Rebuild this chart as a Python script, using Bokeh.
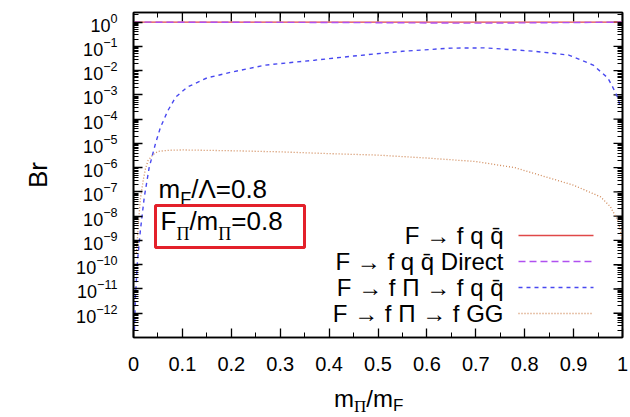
import math
from bokeh.plotting import figure
from bokeh.layouts import column
from bokeh.models import (FixedTicker, LinearAxis, LogAxis, Label, BoxAnnotation, Range1d, Div)
from bokeh.embed import file_html
from bokeh.resources import INLINE

# ---------------- data ----------------
x_total = [0.0, 0.5, 1.0]
br_total = [1.0, 1.0, 1.0]

x_direct = [0.0, 0.2, 0.4, 0.55, 0.65, 0.72, 0.82, 0.9, 0.96, 1.0]
br_direct = [1.0, 0.99, 0.97, 0.94, 0.915, 0.913, 0.94, 0.96, 0.99, 1.0]

x_pi_qq = [0.002, 0.004, 0.008, 0.014, 0.022, 0.032, 0.045, 0.055, 0.07, 0.086,
           0.11, 0.15, 0.2, 0.27, 0.37, 0.45, 0.55, 0.65, 0.72, 0.82,
           0.89, 0.94, 0.97, 0.98, 0.99, 0.996]
br_pi_qq = [2e-13, 5e-12, 1.3e-10, 2.5e-9, 6e-8, 1e-6, 1e-5, 4.5e-5, 2.2e-4, 8e-4,
            2.1e-3, 5e-3, 8.7e-3, 1.7e-2, 2.7e-2, 4e-2, 6.3e-2, 8.5e-2, 8.7e-2, 6.3e-2,
            4.4e-2, 1.7e-2, 5e-3, 2.1e-3, 8e-4, 3e-4]

x_pi_gg = [0.006, 0.01, 0.014, 0.02, 0.025, 0.03, 0.04, 0.05, 0.07, 0.1,
           0.2, 0.3, 0.4, 0.5, 0.6, 0.7, 0.78, 0.83, 0.9, 0.955,
           0.975, 0.99, 0.996, 0.999]
br_pi_gg = [3e-10, 5e-9, 5e-8, 3.2e-7, 1e-6, 2e-6, 3.5e-6, 4.7e-6, 5.2e-6, 5.4e-6,
            5e-6, 4.5e-6, 3.8e-6, 3.3e-6, 2.5e-6, 1.8e-6, 1e-6, 5e-7, 1.9e-7, 6.3e-8,
            2.5e-8, 6.9e-9, 2.5e-9, 1e-9]

legend_labels = ["F \u2192 f q q\u0304",
                 "F \u2192 f q q\u0304 Direct",
                 "F \u2192 f \u03a0 \u2192 f q q\u0304",
                 "F \u2192 f \u03a0 \u2192 f GG"]

x_ticks = [0.0, 0.1, 0.2, 0.3, 0.4, 0.5, 0.6, 0.7, 0.8, 0.9, 1.0]
x_minor = [0.05, 0.15, 0.25, 0.35, 0.45, 0.55, 0.65, 0.75, 0.85, 0.95]
y_exponents = [0, -1, -2, -3, -4, -5, -6, -7, -8, -9, -10, -11, -12]

# ---------------- layout constants (canvas pixels) ----------------
W, H = 630, 417
H_STRIP = 30                          # strip below the chart for the x-axis title
H_MAIN = H - H_STRIP
FL, FR, FT, FB = 133, 622, 12, 337   # frame edges
XMIN, XMAX = 0.0, 1.0
YMIN, YMAX = 1e-13, 2.5
SANS = "Liberation Sans"
SERIF = "Liberation Serif"
LT, LB = math.log10(YMAX), math.log10(YMIN)


def fx(px):
    return px - FL


def fy(py):
    return FB - py


def px2x(px):       # canvas pixel -> data x (for legend keys / tick marks)
    return XMIN + (px - FL) / (FR - FL) * (XMAX - XMIN)


def py2y(py):       # canvas pixel -> data y (log axis)
    return 10 ** (LT - (py - FT) / (FB - FT) * (LT - LB))


p = figure(width=W, height=H_MAIN, x_range=Range1d(XMIN, XMAX), y_range=Range1d(YMIN, YMAX),
           y_axis_type="log", output_backend="svg", toolbar_location=None,
           min_border_left=FL, min_border_right=W - FR, min_border_top=FT,
           min_border_bottom=H_MAIN - FB)
p.grid.visible = False
p.background_fill_color = "white"
p.border_fill_color = "white"
p.outline_line_color = "black"
p.outline_line_width = 1.6

y_major = [10.0 ** e for e in y_exponents]
y_minor = [m * 10.0 ** e for e in range(-13, 1) for m in range(2, 10)]


def style_axis(ax, ticker):
    ax.ticker = ticker
    ax.axis_line_color = "black"
    ax.axis_line_width = 1.6
    ax.major_tick_line_color = "black"
    ax.minor_tick_line_color = "black"
    ax.major_tick_line_width = 1.3
    ax.minor_tick_line_width = 1.0
    ax.major_tick_in = 9
    ax.major_tick_out = 0
    ax.minor_tick_in = 5
    ax.minor_tick_out = 0
    ax.major_label_text_color = "black"
    ax.major_label_text_font = SANS


style_axis(p.xaxis[0], FixedTicker(ticks=x_ticks, minor_ticks=x_minor))
p.xaxis.major_label_text_font_size = "20px"
p.xaxis.major_label_standoff = 19
p.xaxis.major_label_overrides = {0: "0", 1: "1"}

style_axis(p.yaxis[0], FixedTicker(ticks=y_major, minor_ticks=y_minor))
p.yaxis.major_label_text_font_size = "18px"
p.yaxis.major_label_standoff = 16
p.yaxis.axis_label = "Br"
p.yaxis.axis_label_text_font = SANS
p.yaxis.axis_label_text_font_size = "26px"
p.yaxis.axis_label_text_font_style = "normal"
p.yaxis.axis_label_text_color = "black"
p.yaxis.axis_label_standoff = 20

# mirrored (label-free) axes on top and right: minor-length marks from the axis,
# major-length marks added as short segments below
top_ax = LinearAxis()
style_axis(top_ax, FixedTicker(ticks=[], minor_ticks=x_ticks + x_minor))
p.add_layout(top_ax, "above")
right_ax = LogAxis()
style_axis(right_ax, FixedTicker(ticks=[], minor_ticks=y_major + y_minor))
p.add_layout(right_ax, "right")

p.segment(x0=x_ticks, x1=x_ticks, y0=[YMAX] * len(x_ticks),
          y1=[py2y(FT + 9)] * len(x_ticks), line_color="black", line_width=1.3)
p.segment(x0=[px2x(FR - 9)] * len(y_major), x1=[XMAX] * len(y_major),
          y0=y_major, y1=y_major, line_color="black", line_width=1.3)

# ---------------- curves ----------------
styles = [dict(line_color="#e04848", line_width=1.4),
          dict(line_color="#b050f0", line_width=1.4, line_dash="7 4"),
          dict(line_color="#4848f0", line_width=1.4, line_dash="4 4"),
          dict(line_color="#d08a5a", line_width=1.3, line_dash="1 2")]
p.line(x_total, br_total, **styles[0])
p.line(x_direct, br_direct, **styles[1])
p.line(x_pi_qq, br_pi_qq, **styles[2])
p.line(x_pi_gg, br_pi_gg, **styles[3])

# ---------------- legend (text right-aligned, key on the right) ----------------
for i, t in enumerate(legend_labels):
    row = 235 + 26 * i
    p.add_layout(Label(x=fx(503), y=fy(row), x_units="screen", y_units="screen",
                       text=t, text_font=SANS, text_font_size="24px",
                       text_align="right", text_baseline="middle", text_color="black"))
    p.line([px2x(518), px2x(593)], [py2y(row), py2y(row)], **styles[i])


def lab(text, px, base_py, size, font=SANS):
    # base_py is the wanted text baseline; Label is centred on the em-box middle
    mid = base_py - 0.3465 * size
    p.add_layout(Label(x=fx(px), y=fy(mid), x_units="screen", y_units="screen",
                       text=text, text_font=font, text_font_size=f"{size}px",
                       text_align="left", text_baseline="middle",
                       text_color="black"))


# ---------------- annotations inside the frame ----------------
s = 26
x0 = 158
lab("m", x0, 198, s)
x0 += 0.833 * s
lab("F", x0, 205, 18)
x0 += 0.611 * 18
lab("/\u039b=0.8", x0, 198, s)

x0 = 160
lab("F", x0, 230, s)
x0 += 0.611 * s
lab("\u03a0", x0, 240, 18, font=SERIF)
x0 += 0.722 * 18
lab("/m", x0, 230, s)
x0 += (0.278 + 0.833) * s
lab("\u03a0", x0, 240, 18, font=SERIF)
x0 += 0.722 * 18
lab("=0.8", x0, 230, s)

p.add_layout(BoxAnnotation(left=fx(155), right=fx(304), top=fy(205), bottom=fy(247),
                           left_units="screen", right_units="screen",
                           top_units="screen", bottom_units="screen",
                           fill_alpha=0, line_color="#e3202a", line_alpha=1.0,
                           line_width=3))

# ---------------- strip below: x-axis title m_Pi/m_F ----------------
xtitle = ('<div style="padding-left:334px; margin-top:0px; font-family:\'Liberation Sans\';'
          ' font-size:24px; line-height:24px; color:black; white-space:nowrap;">'
          'm<span style="font-family:\'Liberation Serif\'; font-size:17px;'
          ' position:relative; top:5px;">\u03a0</span>/m'
          '<span style="font-size:17px; position:relative; top:4px;">F</span></div>')
strip = Div(text=xtitle, width=W, height=H_STRIP, margin=0,
            styles={"background-color": "white"})

layout = column(p, strip, spacing=0)
open("out.html", "w").write(file_html(layout, INLINE))
